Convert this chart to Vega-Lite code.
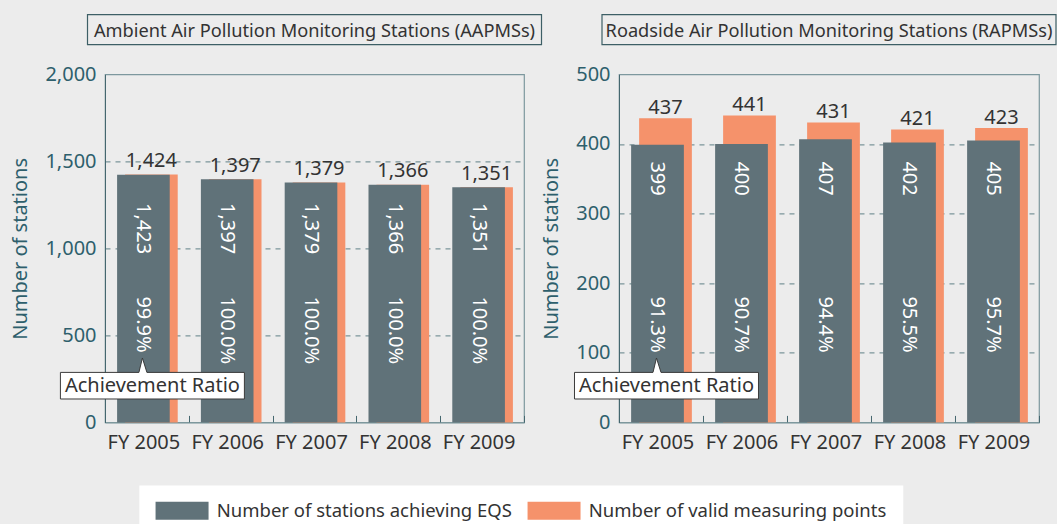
{
  "$schema": "https://vega.github.io/schema/vega-lite/v6.json",
  "background": "#ececec",
  "padding": {"left": 10, "top": 11.4, "right": 0, "bottom": 0},
  "autosize": {"type": "pad"},
  "bounds": "flush",
  "spacing": 95,
  "config": {
    "font": "Noto Sans",
    "view": {"stroke": "#7d989e", "strokeWidth": 1.2},
    "axisX": {
      "title": null, "labelFontSize": 20, "labelColor": "#333333", "labelAngle": 0,
      "labelPadding": 17.5, "tickBand": "extent", "tickSize": -7, "tickColor": "#44666e",
      "domainColor": "#7d989e", "labelOffset": -3.5, "grid": false
    },
    "axisY": {
      "labelFontSize": 20, "labelColor": "#2e5f6c", "labelPadding": 9, "ticks": false,
      "labelExpr": "format(datum.value, ',')",
      "domainColor": "#44666e", "grid": true, "gridDash": [5, 5], "gridColor": "#5f7f86",
      "titleFontSize": 20, "titleColor": "#2e5f6c", "titleFontWeight": "normal", "titlePadding": 14
    },
    "legend": {
      "orient": "none", "legendX": 34.3, "legendY": 411, "direction": "horizontal", "title": null,
      "symbolType": "M-2.944,-1H2.944V1H-2.944Z", "symbolSize": 324, "symbolStrokeWidth": 0, "symbolOpacity": 1,
      "symbolOffset": 17.5,
      "labelFontSize": 18.5, "labelColor": "#333333", "labelOffset": 25.5, "columnPadding": 15,
      "padding": 16, "fillColor": "white", "labelLimit": 400
    }
  },
  "hconcat": [
    {
      "width": 419,
      "height": 348,
      "data": {"values": [
        {"year": "FY 2005", "achieving": 1423, "valid": 1424, "ratio": 0.999},
        {"year": "FY 2006", "achieving": 1397, "valid": 1397, "ratio": 1.0},
        {"year": "FY 2007", "achieving": 1379, "valid": 1379, "ratio": 1.0},
        {"year": "FY 2008", "achieving": 1366, "valid": 1366, "ratio": 1.0},
        {"year": "FY 2009", "achieving": 1351, "valid": 1351, "ratio": 1.0}
      ]},
      "layer": [
        {
          "mark": {"type": "bar", "width": {"band": 0.628}, "xOffset": 4.5, "opacity": 1},
          "encoding": {
            "x": {"field": "year", "type": "nominal", "scale": {"paddingInner": 0, "paddingOuter": 0}},
            "y": {"field": "valid", "type": "quantitative", "title": "Number of stations",
                  "scale": {"domain": [0, 2000], "nice": false},
                  "axis": {"values": [0, 500, 1000, 1500, 2000],
                           "gridOpacity": {"condition": {"test": "datum.value == 0 || datum.value == 2000", "value": 0}, "value": 1}}},
            "color": {"datum": "Number of valid measuring points", "type": "nominal",
                      "scale": {"domain": ["Number of stations achieving EQS", "Number of valid measuring points"], "range": ["#607279", "#f5926b"]}}
          }
        },
        {
          "mark": {"type": "bar", "width": {"band": 0.628}, "xOffset": -3.5, "opacity": 1},
          "encoding": {
            "x": {"field": "year", "type": "nominal"},
            "y": {"field": "achieving", "type": "quantitative", "title": "Number of stations"},
            "color": {"datum": "Number of stations achieving EQS", "type": "nominal"}
          }
        },
        {
          "mark": {"type": "text", "xOffset": 4.5, "dy": -7.5, "baseline": "alphabetic", "fontSize": 20, "color": "#333333"},
          "encoding": {
            "x": {"field": "year", "type": "nominal"},
            "y": {"field": "valid", "type": "quantitative", "title": "Number of stations"},
            "text": {"field": "valid", "type": "quantitative", "format": ","}
          }
        },
        {
          "mark": {"type": "text", "angle": 90, "align": "left", "baseline": "middle", "dx": -219.4, "xOffset": -3.5, "fontSize": 20, "color": "white"},
          "encoding": {
            "x": {"field": "year", "type": "nominal"},
            "y": {"datum": 0, "type": "quantitative", "title": "Number of stations"},
            "text": {"field": "achieving", "type": "quantitative", "format": ","}
          }
        },
        {
          "mark": {"type": "text", "angle": 90, "align": "left", "baseline": "middle", "dx": -126, "xOffset": -3.5, "fontSize": 20, "color": "white"},
          "encoding": {
            "x": {"field": "year", "type": "nominal"},
            "y": {"datum": 0, "type": "quantitative", "title": "Number of stations"},
            "text": {"field": "ratio", "type": "quantitative", "format": ".1%"}
          }
        },
        {
          "data": {"values": [{"label": "Achievement Ratio"}]},
          "layer": [
            {
              "mark": {"type": "point", "shape": "M-83,-50L-4.5,-50L-1,-64.4L3.5,-50L101,-50L101,-23.4L-83,-23.4Z", "size": 4, "filled": true, "fill": "white", "stroke": "#3a3a3a", "strokeWidth": 1, "opacity": 1, "xOffset": -3.5},
              "encoding": {
                "x": {"datum": "FY 2005", "type": "nominal", "bandPosition": 0.5},
                "y": {"datum": 0, "type": "quantitative", "title": "Number of stations"}
              }
            },
            {
              "mark": {"type": "text", "xOffset": -3.5, "dx": 9, "dy": -30, "baseline": "alphabetic", "align": "center", "fontSize": 20, "color": "#333333"},
              "encoding": {
                "x": {"datum": "FY 2005", "type": "nominal", "bandPosition": 0.5},
                "y": {"datum": 0, "type": "quantitative", "title": "Number of stations"},
                "text": {"field": "label", "type": "nominal"}
              }
            }
          ]
        },
        {
          "data": {"values": [{"label": "Ambient Air Pollution Monitoring Stations (AAPMSs)"}]},
          "layer": [
            {
              "mark": {"type": "point", "shape": "M-227,-59.7L227,-59.7L227,-29.7L-227,-29.7Z", "size": 4, "filled": false, "stroke": "#3d5f66", "strokeWidth": 1.2, "opacity": 1},
              "encoding": {
                "x": {"datum": "FY 2007", "type": "nominal", "bandPosition": 0.5},
                "y": {"datum": 2000, "type": "quantitative", "title": "Number of stations"}
              }
            },
            {
              "mark": {"type": "text", "dy": -37.2, "baseline": "alphabetic", "align": "center", "fontSize": 18.2, "color": "#333333"},
              "encoding": {
                "x": {"datum": "FY 2007", "type": "nominal", "bandPosition": 0.5},
                "y": {"datum": 2000, "type": "quantitative", "title": "Number of stations"},
                "text": {"field": "label", "type": "nominal"}
              }
            }
          ]
        }
      ]
    },
    {
      "width": 420,
      "height": 348,
      "data": {"values": [
        {"year": "FY 2005", "achieving": 399, "valid": 437, "ratio": 0.913},
        {"year": "FY 2006", "achieving": 400, "valid": 441, "ratio": 0.907},
        {"year": "FY 2007", "achieving": 407, "valid": 431, "ratio": 0.944},
        {"year": "FY 2008", "achieving": 402, "valid": 421, "ratio": 0.955},
        {"year": "FY 2009", "achieving": 405, "valid": 423, "ratio": 0.957}
      ]},
      "layer": [
        {
          "mark": {"type": "bar", "width": {"band": 0.628}, "xOffset": 4.5, "opacity": 1},
          "encoding": {
            "x": {"field": "year", "type": "nominal", "scale": {"paddingInner": 0, "paddingOuter": 0}},
            "y": {"field": "valid", "type": "quantitative", "title": "Number of stations",
                  "scale": {"domain": [0, 500], "nice": false},
                  "axis": {"values": [0, 100, 200, 300, 400, 500],
                           "gridOpacity": {"condition": {"test": "datum.value == 0 || datum.value == 500", "value": 0}, "value": 1}}},
            "color": {"datum": "Number of valid measuring points", "type": "nominal"}
          }
        },
        {
          "mark": {"type": "bar", "width": {"band": 0.628}, "xOffset": -3.5, "opacity": 1},
          "encoding": {
            "x": {"field": "year", "type": "nominal"},
            "y": {"field": "achieving", "type": "quantitative", "title": "Number of stations"},
            "color": {"datum": "Number of stations achieving EQS", "type": "nominal"}
          }
        },
        {
          "mark": {"type": "text", "xOffset": 4.5, "dy": -4, "baseline": "alphabetic", "fontSize": 20, "color": "#333333"},
          "encoding": {
            "x": {"field": "year", "type": "nominal"},
            "y": {"field": "valid", "type": "quantitative", "title": "Number of stations"},
            "text": {"field": "valid", "type": "quantitative", "format": ","}
          }
        },
        {
          "mark": {"type": "text", "angle": 90, "align": "left", "baseline": "middle", "dx": -261, "xOffset": -3.5, "fontSize": 20, "color": "white"},
          "encoding": {
            "x": {"field": "year", "type": "nominal"},
            "y": {"datum": 0, "type": "quantitative", "title": "Number of stations"},
            "text": {"field": "achieving", "type": "quantitative", "format": ","}
          }
        },
        {
          "mark": {"type": "text", "angle": 90, "align": "left", "baseline": "middle", "dx": -126, "xOffset": -3.5, "fontSize": 20, "color": "white"},
          "encoding": {
            "x": {"field": "year", "type": "nominal"},
            "y": {"datum": 0, "type": "quantitative", "title": "Number of stations"},
            "text": {"field": "ratio", "type": "quantitative", "format": ".1%"}
          }
        },
        {
          "data": {"values": [{"label": "Achievement Ratio"}]},
          "layer": [
            {
              "mark": {"type": "point", "shape": "M-83,-50L-4.5,-50L-1,-64.4L3.5,-50L101,-50L101,-23.4L-83,-23.4Z", "size": 4, "filled": true, "fill": "white", "stroke": "#3a3a3a", "strokeWidth": 1, "opacity": 1, "xOffset": -3.5},
              "encoding": {
                "x": {"datum": "FY 2005", "type": "nominal", "bandPosition": 0.5},
                "y": {"datum": 0, "type": "quantitative", "title": "Number of stations"}
              }
            },
            {
              "mark": {"type": "text", "xOffset": -3.5, "dx": 9, "dy": -30, "baseline": "alphabetic", "align": "center", "fontSize": 20, "color": "#333333"},
              "encoding": {
                "x": {"datum": "FY 2005", "type": "nominal", "bandPosition": 0.5},
                "y": {"datum": 0, "type": "quantitative", "title": "Number of stations"},
                "text": {"field": "label", "type": "nominal"}
              }
            }
          ]
        },
        {
          "data": {"values": [{"label": "Roadside Air Pollution Monitoring Stations (RAPMSs)"}]},
          "layer": [
            {
              "mark": {"type": "point", "shape": "M-227,-59.7L227,-59.7L227,-29.7L-227,-29.7Z", "size": 4, "filled": false, "stroke": "#3d5f66", "strokeWidth": 1.2, "opacity": 1},
              "encoding": {
                "x": {"datum": "FY 2007", "type": "nominal", "bandPosition": 0.5},
                "y": {"datum": 500, "type": "quantitative", "title": "Number of stations"}
              }
            },
            {
              "mark": {"type": "text", "dy": -37.2, "baseline": "alphabetic", "align": "center", "fontSize": 18.2, "color": "#333333"},
              "encoding": {
                "x": {"datum": "FY 2007", "type": "nominal", "bandPosition": 0.5},
                "y": {"datum": 500, "type": "quantitative", "title": "Number of stations"},
                "text": {"field": "label", "type": "nominal"}
              }
            }
          ]
        }
      ]
    }
  ]
}
